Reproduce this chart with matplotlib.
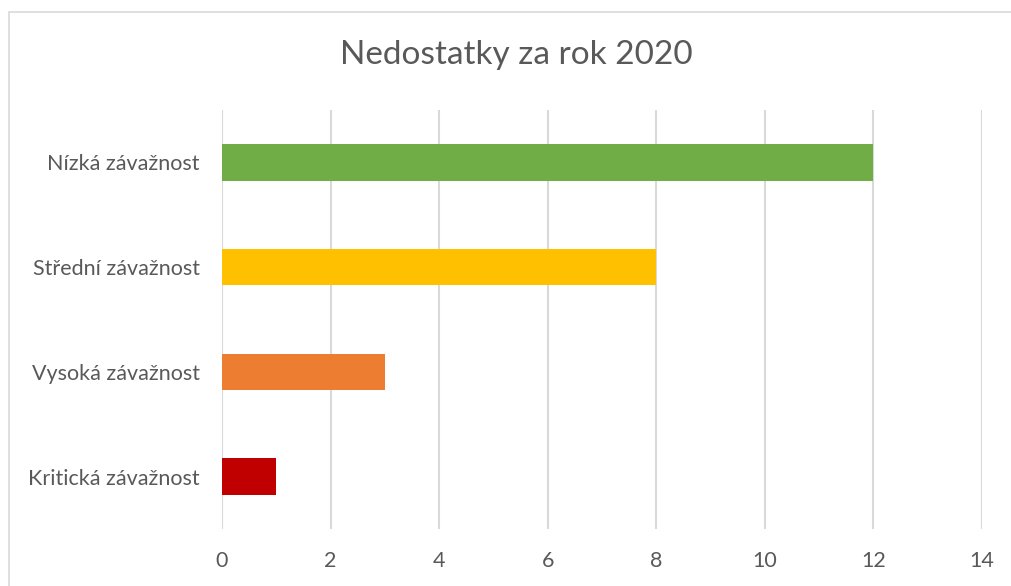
import matplotlib.pyplot as plt
from matplotlib.patches import Rectangle

categories = ["Kritická závažnost", "Vysoká závažnost", "Střední závažnost", "Nízká závažnost"]
values = [1, 3, 8, 12]
colors = ["#C00000", "#ED7D31", "#FFC000", "#70AD47"]
xticks = [0, 2, 4, 6, 8, 10, 12, 14]

plt.rcParams['font.family'] = ['Lato', 'DejaVu Sans']

fig = plt.figure(figsize=(10.12, 5.86), dpi=100)
ax = fig.add_axes([222/1012, 1 - 529/586, 760/1012, 419/586])

# chart border (right and bottom edges are cut off in the reference)
fig.add_artist(Rectangle((9/1012, -0.1), 1.2, 1 - 12/586 + 0.1, transform=fig.transFigure,
                         fill=False, edgecolor="#D9D9D9", linewidth=1.2))

ax.barh(categories, values, height=0.35, color=colors, zorder=3)
ax.set_xlim(0, 14)
ax.set_ylim(-0.5, 3.5)
ax.set_xticks(xticks)
ax.grid(axis="x", color="#D9D9D9", linewidth=1.5, zorder=0)
for s in ax.spines.values():
    s.set_visible(False)
ax.tick_params(length=0, labelsize=15.5, labelcolor="#595959")
ax.tick_params(axis="x", pad=16)
ax.tick_params(axis="y", pad=16)

fig.text(516/1012, 1 - 55/586, "Nedostatky za rok 2020", ha="center", va="center",
         fontsize=24, color="#595959")

fig.savefig("out.png", dpi=100)
